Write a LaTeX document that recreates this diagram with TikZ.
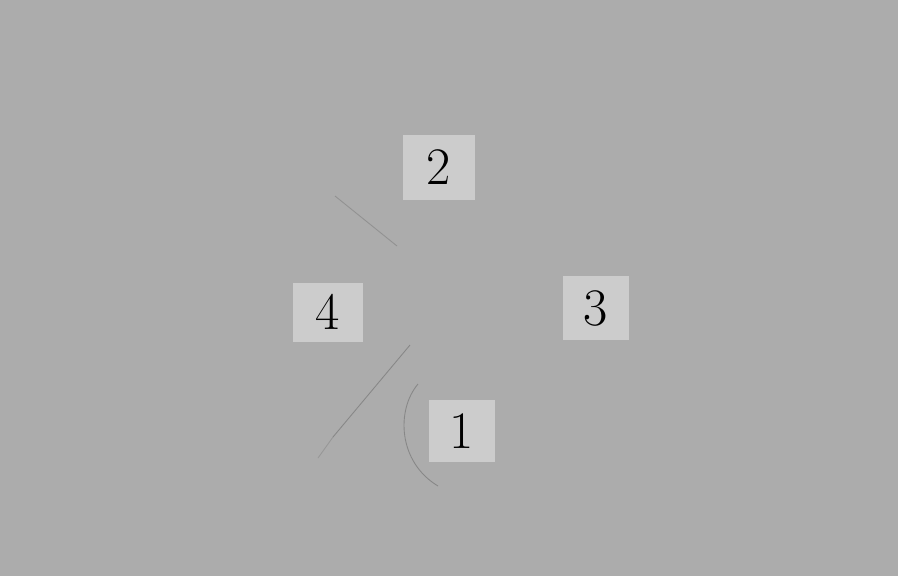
\documentclass[tikz,border=0pt]{standalone}
\usepackage{tikz}
\usetikzlibrary{calc,positioning}
\definecolor{cloth}{RGB}{172,172,172}
\definecolor{tag}{RGB}{204,204,204}
\definecolor{crease}{RGB}{120,120,120}
\tikzset{
    label/.style={rectangle, fill=tag, inner sep=0pt, font=\fontsize{30}{36}\selectfont},
    crease/.style={draw=crease, line width=0.5pt}
}

\begin{document}
\begin{tikzpicture}[x=0.02cm, y=-0.02cm]
    % background
    \fill[cloth] (0,0) rectangle (898,576);
    \useasboundingbox (0,0) rectangle (898,576);

    % Nodes
    \node[label, minimum width=72*0.02cm, minimum height=65*0.02cm] (two) at (439,167) {2};
    \node[label, minimum width=70*0.02cm, minimum height=59*0.02cm] (four) at (328,312) {4};
    \node[label, minimum width=66*0.02cm, minimum height=64*0.02cm] (three) at (596,308) {3};
    \node[label, minimum width=66*0.02cm, minimum height=62*0.02cm] (one) at (462,431) {1};

    % creases
    \draw[crease, opacity=0.5] (335,196) -- (397,246);
    \draw[crease, opacity=0.7] (410,345) -- (333,437);
    \draw[crease, opacity=0.4] (333,437) -- (318,458);
    \draw[crease, opacity=0.7] (418,384) .. controls (396,410) and (398,462) .. (438,486);
\end{tikzpicture}
\end{document}
